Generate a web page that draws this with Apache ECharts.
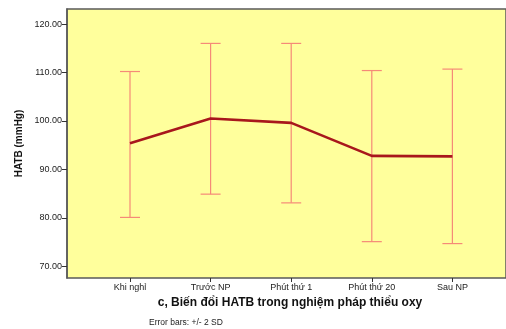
<!DOCTYPE html>
<html>
<head>
<meta charset="utf-8">
<script src="https://cdn.jsdelivr.net/npm/echarts@6/dist/echarts.min.js"></script>
<style>
  html, body { margin: 0; padding: 0; background: #ffffff; }
  #chart { width: 506px; height: 329px; }
</style>
</head>
<body>
<div id="chart"></div>
<script>
// Mean arterial pressure (HATB) across the hypoxia test stages, with ±2 SD bars
const categories = ['Khi nghỉ', 'Trước NP', 'Phút thứ 1', 'Phút thứ 20', 'Sau NP'];
const meanValues = [95.4, 100.5, 99.6, 92.8, 92.7];
const upperValues = [110.2, 116.0, 116.0, 110.4, 110.7];
const lowerValues = [80.1, 84.9, 83.1, 75.1, 74.7];
const yTickValues = [70, 80, 90, 100, 110, 120];

const Y_MIN = 67.6, Y_MAX = 123.1;
const FONT = '"Liberation Sans", Arial, sans-serif';

const chart = echarts.init(document.getElementById('chart'), null, { renderer: 'canvas' });

const errorData = categories.map((c, i) => [i, lowerValues[i], upperValues[i]]);

chart.setOption({
  animation: false,
  backgroundColor: '#ffffff',
  grid: [
    { left: 67, top: 9, right: -4, bottom: 51, show: true, backgroundColor: '#ffff9c',
      borderColor: '#5a5a5a', borderWidth: 1.5, containLabel: false },
    { left: 89.7, top: 9, width: 403, bottom: 51, containLabel: false }
  ],
  xAxis: [
    { gridIndex: 0, type: 'value', min: 0, max: 1, show: false },
    { gridIndex: 1, type: 'category', data: categories, boundaryGap: true,
      axisLine: { show: false },
      axisTick: { show: true, alignWithLabel: true, length: 4, lineStyle: { color: '#333', width: 1 } },
      axisLabel: { color: '#222', fontFamily: FONT, fontSize: 9, margin: 5 } }
  ],
  yAxis: [
    { gridIndex: 0, type: 'value', min: Y_MIN, max: Y_MAX,
      axisLine: { show: true, lineStyle: { color: '#5a5a5a', width: 1.5 } },
      axisTick: { show: true, length: 5, customValues: yTickValues, lineStyle: { color: '#333', width: 1 } },
      axisLabel: { customValues: yTickValues, color: '#222', fontFamily: FONT, fontSize: 9, margin: 5,
        formatter: v => v.toFixed(2) },
      splitLine: { show: false } },
    { gridIndex: 1, type: 'value', min: Y_MIN, max: Y_MAX, show: false, splitLine: { show: false } }
  ],
  series: [
    {
      type: 'custom', xAxisIndex: 1, yAxisIndex: 1, data: errorData,
      renderItem: (params, api) => {
        const lo = api.coord([api.value(0), api.value(1)]);
        const hi = api.coord([api.value(0), api.value(2)]);
        const half = 10;
        const style = { stroke: '#f58a78', lineWidth: 1.2 };
        return {
          type: 'group',
          children: [
            { type: 'line', shape: { x1: hi[0], y1: hi[1], x2: lo[0], y2: lo[1] }, style },
            { type: 'line', shape: { x1: hi[0] - half, y1: hi[1], x2: hi[0] + half, y2: hi[1] }, style },
            { type: 'line', shape: { x1: lo[0] - half, y1: lo[1], x2: lo[0] + half, y2: lo[1] }, style }
          ]
        };
      },
      z: 2
    },
    {
      type: 'line', xAxisIndex: 1, yAxisIndex: 1, data: meanValues,
      symbol: 'none', lineStyle: { color: '#a8171c', width: 2.6 }, z: 3
    }
  ],
  graphic: [
    { type: 'text', x: 19, y: 143.5, rotation: Math.PI / 2,
      style: { text: 'HATB (mmHg)', font: 'bold 10px ' + FONT, fill: '#111', align: 'center', verticalAlign: 'middle',
        x: 0, y: 0 } },
    { type: 'text',
      style: { text: 'c, Biến đổi HATB trong nghiệm pháp thiểu oxy', font: 'bold 12px ' + FONT, fill: '#111',
        x: 290, y: 303, align: 'center', verticalAlign: 'middle' } },
    { type: 'text',
      style: { text: 'Error bars: +/- 2 SD', font: '8.5px ' + FONT, fill: '#222',
        x: 149, y: 323, align: 'left', verticalAlign: 'middle' } }
  ]
});
</script>
</body>
</html>
